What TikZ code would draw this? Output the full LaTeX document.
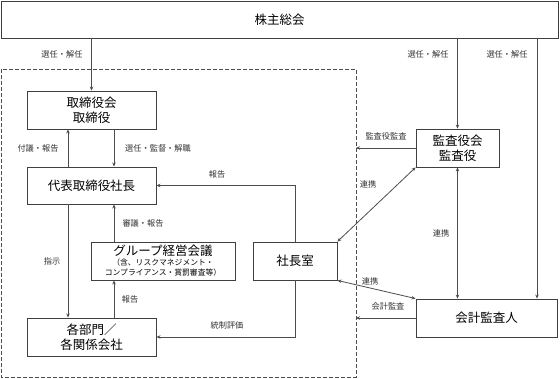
\documentclass[tikz,border=0pt]{standalone}
\usepackage{fontspec}
\newfontfamily\jp{Noto Sans CJK JP}
\usetikzlibrary{arrows.meta,calc}
\begin{document}
\begin{tikzpicture}[x=1pt,y=-1pt,
  box/.style={draw=black!75,line width=0.9pt,fill=white,inner sep=0pt,align=center,font=\jp\fontsize{12.5}{15}\selectfont},
  lbl/.style={font=\jp\fontsize{8.2}{10}\selectfont,text=black!80,inner sep=0pt},
  arr/.style={draw=black!70,line width=0.8pt,-{Stealth[length=4pt,width=3.5pt]}},
  darr/.style={draw=black!70,line width=0.8pt,{Stealth[length=4pt,width=3.5pt]}-{Stealth[length=4pt,width=3.5pt]}},
  ln/.style={draw=black!70,line width=0.8pt}]
\useasboundingbox (0,0) rectangle (560,379);
\draw[black!70,line width=0.8pt,dashed,dash pattern=on 4pt off 2pt] (1,69) rectangle (356,377);
\coordinate (dashR) at (356,200);
\coordinate (xA) at (68,0);
\coordinate (xB) at (114,0);
\coordinate (xC) at (537,0);

\node[box,minimum width=557pt,minimum height=37pt] (top) at (279.5,19.5) {株主総会};
\node[box,minimum width=129pt,minimum height=38pt] (board) at (91.5,110) {取締役会\\取締役};
\node[box,minimum width=129pt,minimum height=37pt] (rep) at (91.5,185.5) {代表取締役社長};
\node[box,minimum width=144pt,minimum height=38pt,font=\jp\fontsize{7.8}{10}\selectfont] (group) at (163,261) {{\fontsize{12.5}{12.5}\selectfont グループ経営会議}\\（含、リスクマネジメント・\\コンプライアンス・賞罰審査等）};
\node[box,minimum width=129pt,minimum height=38pt] (depts) at (91.5,337) {各部門／\\各関係会社};
\node[box,minimum width=84pt,minimum height=38pt] (office) at (295,261) {社長室};
\node[box,minimum width=83pt,minimum height=38pt] (kansa) at (457.5,148) {監査役会\\監査役};
\node[box,minimum width=141pt,minimum height=38pt] (auditor) at (486.5,318) {会計監査人};

% from shareholders
\draw[arr] (top.south -| board.north) -- (board.north);
\draw[arr] (top.south -| kansa.north) -- (kansa.north);
\draw[arr] (top.south -| xC) -- (auditor.north -| xC);
\node[lbl] at (62,54) {選任・解任};
\node[lbl] at (428,54) {選任・解任};
\node[lbl] at (507,54) {選任・解任};

% board <-> rep
\draw[arr] (rep.north -| xA) -- (board.south -| xA);
\draw[arr] (board.south -| xB) -- (rep.north -| xB);
\node[lbl] at (38,148) {付議・報告};
\node[lbl] at (158,148) {選任・監督・解職};

% rep -> depts
\draw[arr] (rep.south -| xA) -- (depts.north -| xA);
\node[lbl] at (52,261) {指示};

% group -> rep, depts -> group
\draw[arr] (group.north -| xB) -- (rep.south -| xB);
\node[lbl] at (143,223) {審議・報告};
\draw[arr] (depts.north -| xB) -- (group.south -| xB);
\node[lbl] at (130,299) {報告};

% office
\draw[arr] (office.north) |- (rep.east);
\node[lbl] at (217,174) {報告};
\draw[arr] (office.south) |- (depts.east);
\node[lbl] at (227,325) {統制評価};

% audits
\draw[arr] (kansa.west) -- (kansa.west -| dashR);
\node[lbl] at (386,136) {監査役監査};
\draw[arr] (auditor.west) -- (auditor.west -| dashR);
\node[lbl] at (388,306) {会計監査};

% cooperation
\draw[darr] (kansa.south west) -- (office.north east);
\node[lbl] at (368,184) {連携};
\draw[darr] (office.south east) -- (auditor.north west);
\node[lbl] at (370,281) {連携};
\draw[darr] (kansa.south) -- (kansa.south |- auditor.north);
\node[lbl] at (441,233) {連携};
\end{tikzpicture}
\end{document}
